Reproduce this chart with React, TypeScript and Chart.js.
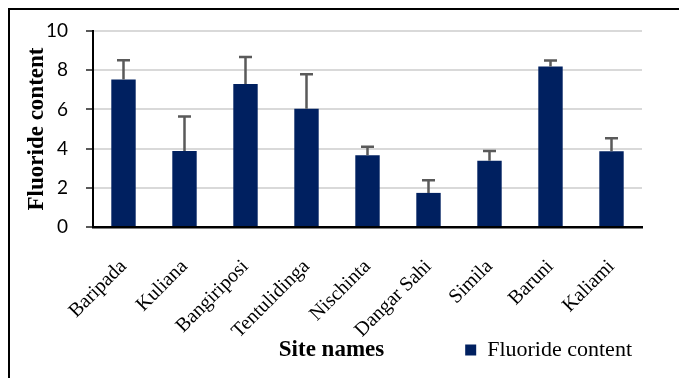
import { useEffect, useRef } from "react";
import { Chart, registerables } from "chart.js";

Chart.register(...registerables);

// Sampling sites and mean fluoride content with the upper standard deviation
const sites = [
  "Baripada",
  "Kuliana",
  "Bangiriposi",
  "Tentulidinga",
  "Nischinta",
  "Dangar Sahi",
  "Simila",
  "Baruni",
  "Kaliami",
];
const fluoride = [7.52, 3.88, 7.3, 6.03, 3.66, 1.74, 3.38, 8.19, 3.86];
const fluorideSd = [0.99, 1.76, 1.37, 1.76, 0.44, 0.65, 0.5, 0.31, 0.67];
const yTicks = [0, 2, 4, 6, 8, 10];

const BAR_COLOR = "#002060";
const SERIF = "'Liberation Serif', 'Times New Roman', serif";

// Positive error bars on top of each bar
const errorBars = {
  id: "errorBars",
  afterDatasetsDraw(chart: any) {
    const { ctx } = chart;
    const y = chart.scales.y;
    const meta = chart.getDatasetMeta(0);
    ctx.save();
    ctx.strokeStyle = "#5a5a5a";
    ctx.lineWidth = 2.5;
    meta.data.forEach((bar: any, i: number) => {
      const base = y.getPixelForValue(fluoride[i]);
      const top = y.getPixelForValue(fluoride[i] + fluorideSd[i]);
      ctx.beginPath();
      ctx.moveTo(bar.x, base);
      ctx.lineTo(bar.x, top);
      ctx.moveTo(bar.x - 6.5, top);
      ctx.lineTo(bar.x + 6.5, top);
      ctx.stroke();
    });
    ctx.restore();
  },
};

// X axis title, drawn on the same row as the legend
const siteTitle = {
  id: "siteTitle",
  afterDraw(chart: any) {
    const { ctx, chartArea, legend } = chart;
    const box = legend?.legendHitBoxes?.[0];
    if (!box) return;
    ctx.save();
    ctx.font = `bold 23px ${SERIF}`;
    ctx.fillStyle = "#000";
    ctx.textAlign = "center";
    ctx.textBaseline = "middle";
    ctx.fillText("Site names", (chartArea.left + chartArea.right) / 2 - 36, box.top + box.height / 2);
    ctx.restore();
  },
};

export default function App() {
  const canvasRef = useRef<HTMLCanvasElement | null>(null);

  useEffect(() => {
    const canvas = canvasRef.current;
    if (!canvas) return;
    const chart = new Chart(canvas, {
      type: "bar",
      data: {
        labels: sites,
        datasets: [
          {
            label: "Fluoride content",
            data: fluoride,
            backgroundColor: BAR_COLOR,
            borderWidth: 0,
            categoryPercentage: 1,
            barPercentage: 0.4,
          },
        ],
      },
      options: {
        responsive: false,
        animation: false,
        layout: { padding: { left: 0, right: 37, top: 21, bottom: 7 } },
        plugins: {
          tooltip: { enabled: false },
          legend: {
            position: "bottom",
            align: "end",
            labels: {
              boxWidth: 11,
              boxHeight: 11,
              padding: 10,
              color: "#000",
              font: { family: SERIF, size: 22 },
            },
          },
        },
        scales: {
          x: {
            grid: { display: false },
            border: { display: true, color: "#000", width: 2.5 },
            ticks: {
              color: "#000",
              font: { family: SERIF, size: 20 },
              minRotation: 45,
              maxRotation: 45,
              padding: 20,
              autoSkip: false,
            },
            afterFit(scale: any) {
              scale.height = 102;
              // long rotated names may run past the axis box into the legend row
              scale._computeLabelArea = () => undefined;
            },
          },
          y: {
            min: 0,
            max: 10,
            afterBuildTicks(scale: any) {
              scale.ticks = yTicks.map((v) => ({ value: v }));
            },
            afterFit(scale: any) {
              scale.width = 83;
              scale.paddingTop = 0;
              scale.paddingBottom = 0;
            },
            grid: {
              color: "#d9d9d9",
              lineWidth: 2,
              tickLength: 7,
              tickColor: "#222",
              tickWidth: 1.5,
            },
            border: { display: true, color: "#000", width: 2 },
            ticks: {
              color: "#000",
              padding: 18,
              font: { family: "Lato, 'Open Sans', sans-serif", size: 19 },
            },
            title: {
              display: true,
              text: "Fluoride content",
              color: "#000",
              padding: { top: 13, bottom: 0 },
              font: { family: SERIF, size: 23, weight: "bold" },
            },
          },
        },
      },
      plugins: [errorBars, siteTitle],
    });
    return () => chart.destroy();
  }, []);

  return (
    <div
      style={{
        position: "fixed",
        left: 8,
        top: 8,
        width: 671,
        height: 370,
        boxSizing: "border-box",
        borderLeft: "2px solid #000",
        borderTop: "2px solid #000",
        background: "#fff",
      }}
    >
      <canvas ref={canvasRef} width={669} height={368} style={{ display: "block" }} />
    </div>
  );
}
